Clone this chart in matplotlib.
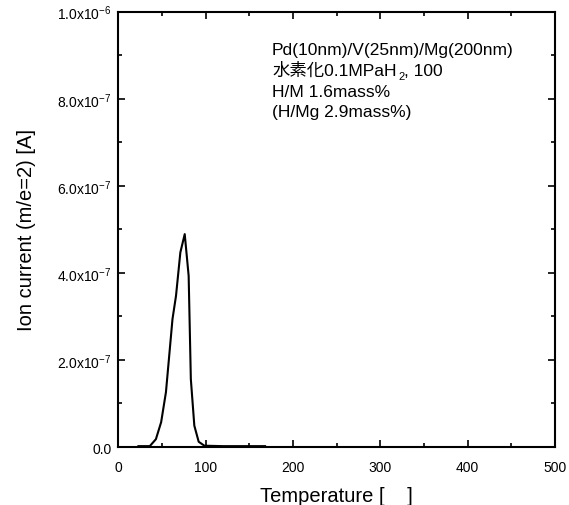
import matplotlib
matplotlib.use("Agg")
import matplotlib.pyplot as plt
from matplotlib.ticker import MultipleLocator, FuncFormatter

plt.rcParams['font.family'] = ['Liberation Sans', 'Noto Sans CJK JP', 'DejaVu Sans']
plt.rcParams['mathtext.fontset'] = 'custom'
plt.rcParams['mathtext.rm'] = 'Liberation Sans'
plt.rcParams['mathtext.it'] = 'Liberation Sans:italic'

# temperature [C] vs ion current (m/e=2) [A]
temp = [23, 36, 43, 49, 54.5, 62, 66, 71, 76, 80.5, 83, 87, 92, 98.5, 120, 168]
current = [2e-9, 2e-9, 1.8e-8, 5.7e-8, 1.26e-7, 2.94e-7, 3.47e-7, 4.47e-7,
           4.89e-7, 3.93e-7, 1.56e-7, 4.9e-8, 1.2e-8, 3e-9, 2e-9, 2e-9]

line1 = "Pd(10nm)/V(25nm)/Mg(200nm)"
line2_a = "水素化0.1MPaH"
line2_sub = "2"
line2_b = ", 100"
line3 = "H/M 1.6mass%"
line4 = "(H/Mg 2.9mass%)"

fig = plt.figure(figsize=(5.69, 5.06), dpi=100)
ax = fig.add_axes([0.208, 0.1146, 0.7674, 0.8604])

ax.plot(temp, current, "k-", linewidth=1.5)

ax.set_xlim(0, 500)
ax.set_ylim(0, 1.0e-6)
ax.xaxis.set_major_locator(MultipleLocator(100))
ax.xaxis.set_minor_locator(MultipleLocator(50))
ax.yaxis.set_major_locator(MultipleLocator(2e-7))
ax.yaxis.set_minor_locator(MultipleLocator(1e-7))


def yfmt(v, pos):
    if abs(v) < 1e-12:
        return "0.0"
    exp = 0
    m = v
    while abs(m) < 1:
        m *= 10
        exp -= 1
    return "%.1fx10$^{%d}$" % (m, exp)


ax.yaxis.set_major_formatter(FuncFormatter(yfmt))

ax.tick_params(which='both', direction='in', top=True, right=True,
               width=1.2, labelsize=10)
ax.tick_params(axis='x', pad=9)
ax.tick_params(axis='y', pad=5)
ax.tick_params(which='major', length=5)
ax.tick_params(which='minor', length=3)
for s in ax.spines.values():
    s.set_linewidth(1.5)

ax.set_xlabel("Temperature [    ]", fontsize=14.5, labelpad=9)
ax.set_ylabel("Ion current (m/e=2) [A]", fontsize=14.5, labelpad=15)

fs = 12.5
x0 = 0.352
y0 = 0.902
dy = 0.0475
ax.text(x0, y0, line1, transform=ax.transAxes, fontsize=fs, va='baseline')
t2 = ax.text(x0, y0 - dy, line2_a, transform=ax.transAxes, fontsize=fs,
             va='baseline')
t2s = ax.annotate(line2_sub, xy=(1, y0 - dy), xycoords=(t2, ax.transAxes),
                  xytext=(1, -3), textcoords='offset points',
                  fontsize=8, va='baseline')
ax.annotate(line2_b, xy=(1, y0 - dy), xycoords=(t2s, ax.transAxes),
            fontsize=fs, va='baseline')
ax.text(x0, y0 - 2 * dy, line3, transform=ax.transAxes, fontsize=fs,
        va='baseline')
ax.text(x0, y0 - 3 * dy, line4, transform=ax.transAxes, fontsize=fs,
        va='baseline')

fig.savefig("out.png", dpi=100)
